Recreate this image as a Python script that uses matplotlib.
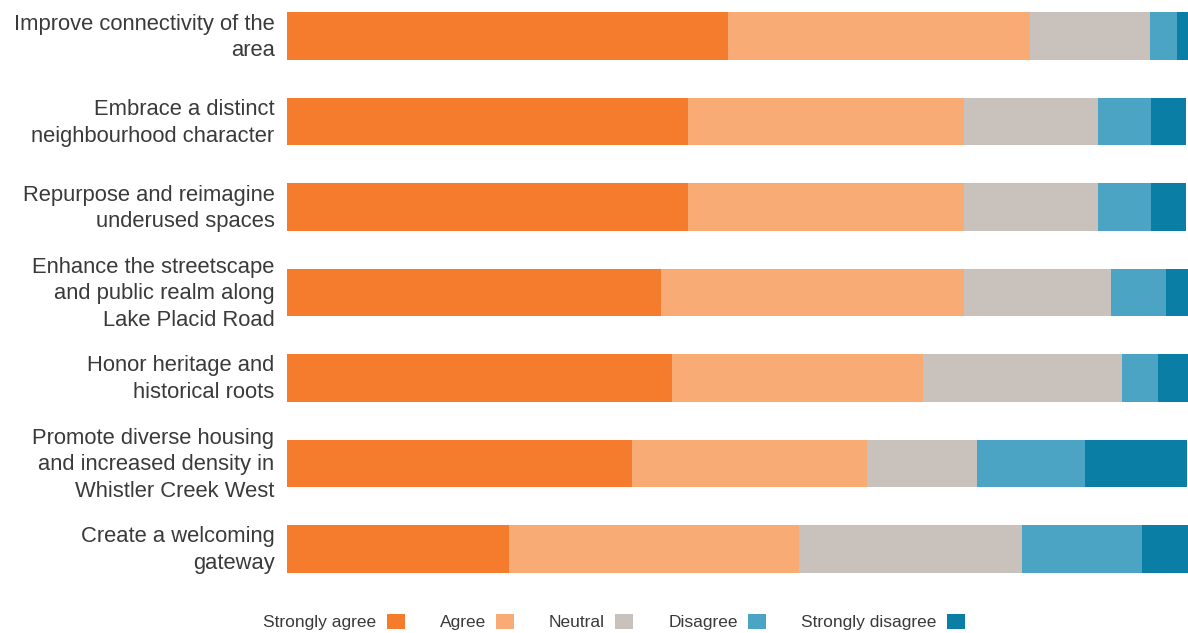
import matplotlib.pyplot as plt
from matplotlib.patches import Patch
from matplotlib.transforms import ScaledTranslation
import numpy as np

plt.rcParams['font.family'] = ['Liberation Sans', 'DejaVu Sans']

statements = [
    "Improve connectivity of the\narea",
    "Embrace a distinct\nneighbourhood character",
    "Repurpose and reimagine\nunderused spaces",
    "Enhance the streetscape\nand public realm along\nLake Placid Road",
    "Honor heritage and\nhistorical roots",
    "Promote diverse housing\nand increased density in\nWhistler Creek West",
    "Create a welcoming\ngateway",
]
responses = ["Strongly agree", "Agree", "Neutral", "Disagree", "Strongly disagree"]

# percentages
strongly_agree = [49.0, 44.6, 44.6, 41.6, 42.8, 38.3, 24.7]
agree = [33.6, 30.6, 30.6, 33.6, 27.9, 26.1, 32.2]
neutral = [13.3, 14.9, 14.9, 16.3, 22.1, 12.3, 24.8]
disagree = [3.0, 5.9, 5.9, 6.2, 4.0, 12.0, 13.3]
strongly_disagree = [1.2, 3.9, 3.9, 2.4, 3.3, 11.3, 5.1]

colors = ["#F47C2C", "#F8AB75", "#C9C1BB", "#4BA4C4", "#0A7EA4"]
text_col = "#3a3a3a"

fig = plt.figure(figsize=(11.88, 6.33), dpi=100)
ax = fig.add_axes([287 / 1188, 43 / 633, 901 / 1188, 585 / 633])

series = [strongly_agree, agree, neutral, disagree, strongly_disagree]
y = np.arange(len(statements))
left = np.zeros(len(statements))
for vals, col in zip(series, colors):
    ax.barh(y, vals, left=left, height=0.56, color=col, linewidth=0)
    left += np.array(vals)

ax.set_xlim(0, 100.1)
ax.set_ylim(6.48, -0.363)
ax.set_yticks(y)
ax.set_yticklabels(statements, fontsize=15.8, color=text_col, linespacing=1.36)
ax.tick_params(axis="y", length=0, pad=9)
ax.set_xticks([])
for s in ax.spines.values():
    s.set_visible(False)

# nudge labels up a little to sit centred on the bars
shift = ScaledTranslation(0, 0.04, fig.dpi_scale_trans)
for lab in ax.get_yticklabels():
    lab.set_transform(lab.get_transform() + shift)

handles = [Patch(facecolor=c, edgecolor="none") for c in colors]
fig.legend(handles, responses, loc="center", bbox_to_anchor=(614 / 1188, 1 - 622 / 633),
           ncol=5, frameon=False, markerfirst=False, fontsize=12.5,
           handlelength=1.04, handleheight=0.98, handletextpad=0.6, columnspacing=2.0,
           labelcolor=text_col)

fig.savefig("out.png", dpi=100)
